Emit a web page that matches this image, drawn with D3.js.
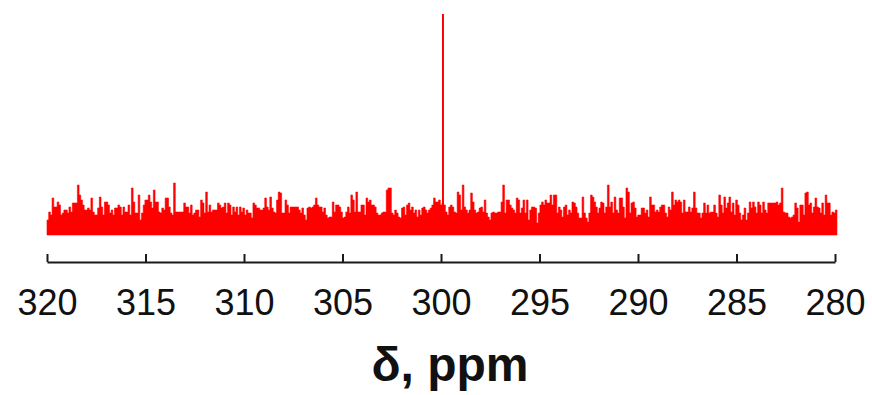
<!DOCTYPE html>
<html>
<head>
<meta charset="utf-8">
<script src="https://cdn.jsdelivr.net/npm/d3@7"></script>
<style>
  body { margin: 0; background: #fff; }
</style>
</head>
<body>
<div id="chart"></div>
<script>
// spectrum window (ppm) and tick labels
const ppmStart = 320, ppmEnd = 279.9;
const tickValues = [320, 315, 310, 305, 300, 295, 290, 285, 280];

const noise = [
  15,23,20,37,28,28, 33,30,20,22,25,25, 22,28,23,32,32,32, 50,40,35,30,25,25,
  27,25,37,23,20,20, 27,38,28,20,33,33, 30,22,25,20,27,27, 30,28,20,28,23,23,
  30,20,47,33,22,22, 40,15,22,30,35,35, 40,33,27,45,33,33, 23,22,27,25,37,37,
  28,22,20,52,23,23, 23,23,23,32,28,28, 22,30,20,22,25,25, 18,
  35,32,22,43,23,30,23,25,25,25, 32,30,27,28,32,22,32,30,20,28,
  23,28,20,28,23,27,20,25,22,22, 17,32,30,27,27,25,25,27,37,28,
  25,38,27,23,22,35,43,42,22,22, 35,30,22,28,28,28,28,28,25,22,
  27,20,15,27,28,27,28,30,37,30, 28,28,23,27,20,17,18,18,33,23,
  30,30,28,23,17,18,23,28,22,40, 35,23,43,23,23,
  30,30,20,37,33,35,30,30,28,22, 20,20,22,23,23,45,47,47,22,20,
  25,22,18,17,27,28,20,30,32,25, 28,22,25,18,25,20,27,28,25,22,
  25,27,30,37,33,33,35,30, 32,30,23,20,28,30,28,23,22,43,
  40,25,50,28,25,22,25,42,33,25, 22,23,27,28,23,35,22,18,15,22,
  23,22,22,23,23,33,50,22,35,35, 30,27,25,22,37,35,22,27,
  35,22,35,15,25,28,28,27,12,22, 30,33,30,35,32,32,40,30,40,40,
  22,28,25,18,28,30,20,25,22,33, 32,28,22,17,17,38,22,17,13,22,
  40,38,33,28,22,27,33,32,22,28, 50,28,33,22,38,25,22,37,37,28,
  17,47,43,22,32,33,27,18,20,20, 27,27,22,25,18,38,30,30,23,25,
  23,28,30,30,22,18,28,25,43,30, 35,33,35,33,22,35,
  23,23,28,23,27,43,27,22,22,17, 22,32,22,30,22,23,23,30,22,18,
  40,30,22,38,27,32,38,23,32,20, 35,30,22,15,20,27,15,22,33,27,
  33,28,22,33,30,22,33,25,22,32, 32,32,32,32,33,30,32,47,23,22,
  22,18,17,18,20,32,27,13,30,30, 20,42,43,30,32,22,28,37,28,27,
  22,32,20,40,32,32,20,23,22,25, 25
];

// the single sharp line
const peakPpm = [299.9];
const peakHeight = [221];

const width = 872, height = 395;
const margin = { left: 47, right: 37, top: 14, plotBottom: 235, axisY: 262 };

const svg = d3.select("#chart")
  .append("svg")
    .attr("width", width)
    .attr("height", height);

// X scale (reversed, as usual for NMR)
const x = d3.scaleLinear()
  .domain([320, 280])
  .range([margin.left, width - margin.right]);

// Y scale
const y = d3.scaleLinear()
  .domain([0, d3.max(peakHeight)])
  .range([margin.plotBottom, margin.top]);

const step = (ppmStart - ppmEnd) / (noise.length - 1);
const spectrum = noise.map((h, i) => ({ ppm: ppmStart - i * step, h }));

// noise as a filled step trace
svg.append("path")
  .datum(spectrum)
  .attr("fill", "#ff0000")
  .attr("stroke", "#ff0000")
  .attr("stroke-width", 0.6)
  .attr("d", d3.area()
    .curve(d3.curveStepAfter)
    .x(d => x(d.ppm))
    .y0(y(0))
    .y1(d => y(d.h)));

// peak
svg.selectAll("line.peak")
  .data(peakPpm)
  .enter()
  .append("line")
    .attr("class", "peak")
    .attr("x1", d => x(d))
    .attr("x2", d => x(d))
    .attr("y1", y(0))
    .attr("y2", (d, i) => y(peakHeight[i]))
    .attr("stroke", "#ff0000")
    .attr("stroke-width", 2);

// X axis, ticks pointing up
svg.append("g")
  .attr("transform", `translate(0,${margin.axisY})`)
  .call(d3.axisBottom(x)
    .tickValues(tickValues)
    .tickFormat(d3.format("d"))
    .tickSize(-8)
    .tickSizeOuter(0)
    .tickPadding(27))
  .call(g => g.select(".domain").attr("stroke", "#1a1a1a").attr("stroke-width", 2))
  .call(g => g.selectAll(".tick line").attr("stroke", "#1a1a1a").attr("stroke-width", 2))
  .call(g => g.selectAll("text")
    .attr("fill", "#111")
    .attr("font-family", "'Liberation Sans', Arial, sans-serif")
    .attr("font-size", "36px"));

// axis title
svg.append("text")
  .attr("x", 450)
  .attr("y", 381)
  .attr("text-anchor", "middle")
  .attr("font-family", "'Liberation Sans', Arial, sans-serif")
  .attr("font-weight", "bold")
  .attr("font-size", "48px")
  .attr("fill", "#111")
  .text("δ, ppm");
</script>
</body>
</html>
